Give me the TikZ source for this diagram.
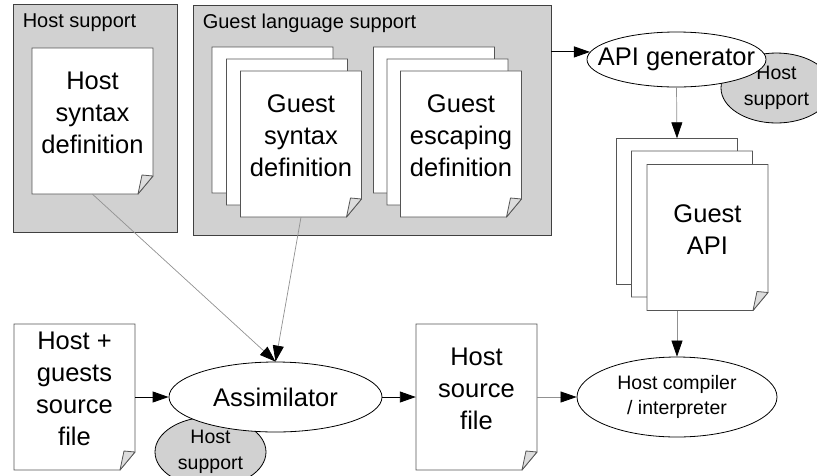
\documentclass[tikz,border=0pt]{standalone}
\usepackage{fontspec}
\setmainfont{Liberation Sans}
\usetikzlibrary{shapes.geometric}
\usetikzlibrary{arrows.meta, calc}
\usetikzlibrary{positioning}

\definecolor{boxgray}{RGB}{209,209,209}
\definecolor{pageline}{RGB}{85,85,85}
\definecolor{wiregray}{RGB}{145,145,145}

\begin{document}
\begin{tikzpicture}
  [
    x=1pt, y=-1pt,
    >={Triangle[length=16pt,width=11pt]},
    area/.style      = {draw=black!75, fill=boxgray, inner sep=0pt, line width=0.8pt},
    areatitle/.style = {anchor=base west, inner sep=0pt, font=\fontsize{20}{24}\selectfont},
    sheet/.style     = {draw=pageline, fill=white, line width=0.8pt},
    dogear/.style    = {draw=pageline, fill=boxgray!75, line width=0.8pt, line join=round},
    pagetext/.style  = {minimum width=121pt, minimum height=146pt, inner sep=0pt, align=center,
                        text depth=16pt, font=\fontsize{25.5}{32}\selectfont},
    tool/.style      = {draw, ellipse, fill=white, inner sep=0pt, align=center, line width=0.8pt},
    support/.style   = {draw, ellipse, fill=boxgray, inner sep=0pt, align=center, line width=0.8pt,
                        minimum width=111pt, minimum height=70pt, font=\fontsize{19.5}{26}\selectfont},
    flow/.style      = {->, line width=0.9pt},
    feed/.style      = {-{Triangle[length=16pt,width=11pt,color=black]}, draw=wiregray, line width=0.7pt},
  ]

  \useasboundingbox (0,0) rectangle (817,475);
  \clip (0,0) rectangle (817,475);

  % a sheet with a folded corner
  \def\docpage#1#2#3{%
    \draw[sheet] ($(#2)+(-60.5,-73)$) -- ++(121,0) -- ++(0,128) -- ++(-15,18) -- ++(-106,0) -- cycle;
    \node[pagetext] (#1) at (#2) {#3};
    \draw[dogear] ($(#2)+(60.5,55)$) -- ++(-11,-1) -- ++(-4,19) -- cycle;
  }

  % the support areas
  \node (hostarea) at (95,118) [area, minimum width=164pt, minimum height=228pt] {};
  \node (hosttitle) at ($(hostarea.north west)+(10,24)$) [areatitle] {Host support};
  \node (guestarea) at (372,120) [area, minimum width=358pt, minimum height=230pt] {};
  \node (guesttitle) at ($(guestarea.north west)+(10,24)$) [areatitle] {Guest language support};

  \docpage{hsd}{92.5,121}{Host\\syntax\\definition}

  \docpage{gsd1}{272.5,120}{}
  \docpage{gsd2}{287,132}{}
  \docpage{gsd}{301,144}{Guest\\syntax\\definition}

  \docpage{ged1}{434,120}{}
  \docpage{ged2}{447.5,132}{}
  \docpage{ged}{461,144}{Guest\\escaping\\definition}

  \docpage{api1}{677,211.5}{}
  \docpage{api2}{692,224}{}
  \docpage{api}{707.5,237.5}{Guest\\API}

  \docpage{hgsrc}{74.5,397}{Host +\\guests\\source\\file}
  \docpage{hsrc}{476.5,397}{Host\\source\\file}

  % the tools
  \node (apisupport) at (776.5,88) [support] {Host\\support};
  \node (apigen) at (676.5,59.5) [tool, minimum width=179pt, minimum height=55pt,
    font=\fontsize{25.5}{32}\selectfont] {\makebox[100pt]{\raisebox{4pt}{API generator}}};

  \node (assimsupport) at (210.5,452) [support] {Host\\support};
  \node (assim) at (275.5,397) [tool, minimum width=213pt, minimum height=70pt,
    font=\fontsize{25.5}{32}\selectfont] {Assimilator};

  \node (hcomp) at (677,397) [tool, minimum width=200pt, minimum height=80pt,
    font=\fontsize{19.5}{25}\selectfont] {Host compiler\\/ interpreter};

  % connectors
  \draw[flow] (guestarea.east |- apigen.175) -- (apigen.175);
  \draw[feed] (apigen.south) -- (api1.north);
  \draw[feed] (hcomp.north |- api.south) -- (hcomp.north);
  \draw[feed] (hsd.south) -- (assim.north);
  \draw[feed] (gsd.south) -- (assim.north);
  \draw[flow] (hgsrc.east) -- (assim.west);
  \draw[flow] (assim.east) -- (hsrc.west);
  \draw[feed] (hsrc.east) -- (hcomp.west);

\end{tikzpicture}
\end{document}
